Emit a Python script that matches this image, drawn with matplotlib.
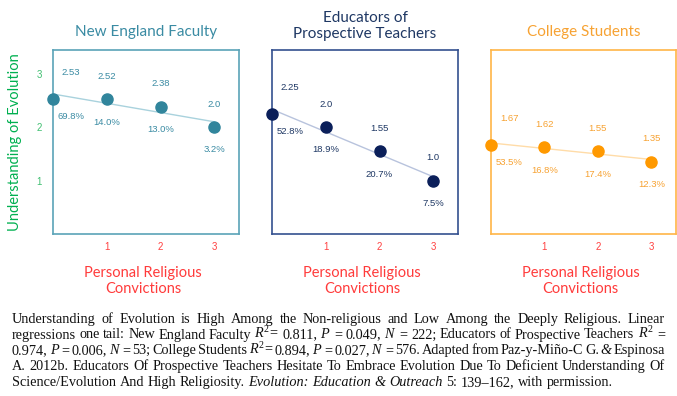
import numpy as np
import matplotlib.pyplot as plt

plt.rcParams['mathtext.fontset'] = 'custom'
plt.rcParams['mathtext.rm'] = 'Liberation Serif'
plt.rcParams['mathtext.it'] = 'Liberation Serif:italic'

# data
levels = [0, 1, 2, 3]
titles = ["New England Faculty", "Educators of\nProspective Teachers", "College Students"]
ne_scores = [2.53, 2.52, 2.38, 2.0]
ne_pct = ["69.8%", "14.0%", "13.0%", "3.2%"]
ed_scores = [2.25, 2.0, 1.55, 1.0]
ed_pct = ["52.8%", "18.9%", "20.7%", "7.5%"]
cs_scores = [1.67, 1.62, 1.55, 1.35]
cs_pct = ["53.5%", "16.8%", "17.4%", "12.3%"]
x_ticks = [1, 2, 3]
y_ticks = [1, 2, 3]

caption = [
    "Understanding of Evolution is High Among the Non-religious and Low Among the Deeply Religious. Linear",
    "regressions one tail: New England Faculty $R^2$= 0.811, $P$ = 0.049, $N$ = 222; Educators of Prospective Teachers $R^2$ =",
    "0.974, $P$ = 0.006, $N$ = 53; College Students $R^2$= 0.894, $P$ = 0.027, $N$ = 576. Adapted from Paz-y-Miño-C G. & Espinosa",
    "A. 2012b. Educators Of Prospective Teachers Hesitate To Embrace Evolution Due To Deficient Understanding Of",
    "Science/Evolution And High Religiosity. Evolution: Education & Outreach 5: 139\u2013162, with permission.",
]
italic_words = {"Evolution:", "Education", "&", "Outreach"}

# style per panel: marker, line, box, text
styles = [
    dict(mk="#31859C", ln="#A9D2DD", box="#5AA3B8", txt="#3A8BA3"),
    dict(mk="#0B1F5A", ln="#B8C3DD", box="#34508F", txt="#1F3864"),
    dict(mk="#FF9900", ln="#FFDCA8", box="#FFB547", txt="#F7A232"),
]
series = [(ne_scores, ne_pct), (ed_scores, ed_pct), (cs_scores, cs_pct)]

W, H = 677, 396
fig = plt.figure(figsize=(W / 100, H / 100), dpi=100)

boxes = [(53, 50, 186, 184), (272, 50, 186, 184), (491, 50, 185, 184)]
title_y = [32, 26, 32]


def fmt(v):
    s = f"{v:.2f}".rstrip("0")
    return s + "0" if s.endswith(".") else s


for i, ((scores, pcts), st, (bx, by, bw, bh)) in enumerate(zip(series, styles, boxes)):
    ax = fig.add_axes([bx / W, 1 - (by + bh) / H, bw / W, bh / H])
    ax.set_xlim(0, 3.46)
    ax.set_ylim(0, 3.44)
    for sp in ax.spines.values():
        sp.set_color(st["box"])
        sp.set_linewidth(1.2)

    # regression line
    k, b = np.polyfit(levels, scores, 1)
    xs = np.array([levels[0], levels[-1]])
    ax.plot(xs, k * xs + b, color=st["ln"], lw=1, zorder=2, clip_on=False)
    ax.plot(levels, scores, "o", ms=8, color=st["mk"], zorder=3, clip_on=False)

    for j, (xv, yv, p) in enumerate(zip(levels, scores, pcts)):
        dx = 13 if j == 0 else 0
        up = 18.5 if j == 0 else 16.5
        dn = -13 if j == 0 else -16.5
        ax.annotate(fmt(yv), (xv, yv), xytext=(dx, up), textcoords="offset points",
                    ha="center", va="center", fontsize=6.8, family="Liberation Sans",
                    color=st["txt"])
        ax.annotate(p, (xv, yv), xytext=(dx, dn), textcoords="offset points",
                    ha="center", va="center", fontsize=6.8, family="Liberation Sans",
                    color=st["txt"])

    ax.set_xticks(x_ticks)
    ax.set_xticklabels([str(t) for t in x_ticks], fontsize=7, family="Liberation Sans",
                       color="#FF4040")
    ax.tick_params(axis="x", length=0, pad=6)
    if i == 0:
        ax.set_yticks(y_ticks)
        ax.set_yticklabels([str(t) for t in y_ticks], fontsize=7, family="Liberation Sans",
                           color="#3FBF70")
        ax.tick_params(axis="y", length=0, pad=8)
    else:
        ax.set_yticks([])

    cx = bx + bw / 2
    fig.text(cx / W, 1 - title_y[i] / H, titles[i], ha="center", va="center",
             fontsize=11, family="Lato", color=st["txt"], linespacing=1.25)
    fig.text((cx - 3) / W, 1 - 281 / H, "Personal Religious\nConvictions", ha="center",
             va="center", fontsize=10.5, family="Lato", color="#FF3B3B", linespacing=1.25)

fig.text(15 / W, 1 - 142 / H, "Understanding of Evolution", rotation=90, ha="center",
         va="center", fontsize=10.5, family="Lato", color="#00B050")

# justified caption
fig.canvas.draw()
renderer = fig.canvas.get_renderer()
x_left, x_right = 12, 665
baselines = [323, 338.5, 354, 370, 386]
fs = 10.3
space = fs * 0.25 * 100 / 72
for i, line in enumerate(caption):
    words = line.split(" ")
    texts = []
    for w in words:
        t = fig.text(0, 1 - baselines[i] / H, w, fontsize=fs, family="Liberation Serif",
                     style="italic" if w in italic_words else "normal", va="baseline",
                     color="#111111")
        texts.append(t)
    widths = [t.get_window_extent(renderer).width for t in texts]
    if i == len(caption) - 1:
        gap = space
    else:
        gap = (x_right - x_left - sum(widths)) / (len(words) - 1)
    x = x_left
    for t, wd in zip(texts, widths):
        t.set_x(x / W)
        x += wd + gap

fig.savefig("out.png", dpi=100)
